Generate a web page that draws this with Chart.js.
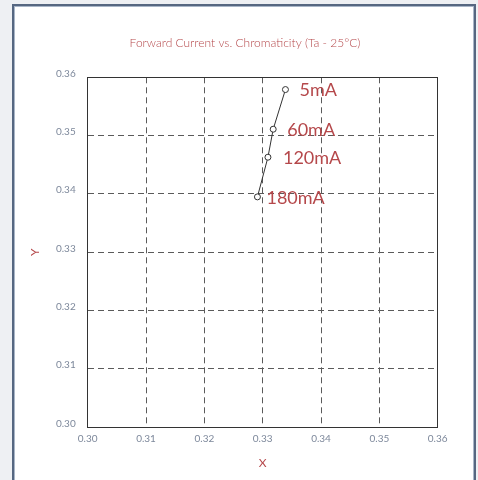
<!DOCTYPE html>
<html>
<head>
<meta charset="utf-8">
<script src="https://cdn.jsdelivr.net/npm/chart.js@4.4.1/dist/chart.umd.min.js"></script>
<style>
  html,body{margin:0;padding:0;width:478px;height:480px;overflow:hidden;background:#eef0f3;}
  .card{position:absolute;left:12px;top:4px;width:460px;height:500px;background:#fff;border:2px solid #566781;box-shadow:inset 0 0 0 1px #a9b6c8;}
  .wrap{position:absolute;left:0;top:0;width:478px;height:480px;}
</style>
</head>
<body>
<div class="card"></div>
<div class="wrap"><canvas id="chromaChart" width="478" height="480"></canvas></div>
<script>
const currents = ['5mA','60mA','120mA','180mA'];
const chromaX = [0.3339, 0.3318, 0.3309, 0.3291];
const chromaY = [0.3579, 0.3511, 0.3463, 0.3395];
const axisMin = 0.30, axisMax = 0.36, axisStep = 0.01;

document.addEventListener('DOMContentLoaded', () => {

  const red = '#b5484b';
  const tickGrey = '#7d889b';

  // labels next to each point
  const currentLabels = {
    id:'currentLabels',
    afterDatasetsDraw(chart, args, opts){
      const {ctx} = chart;
      const pts = chart.getDatasetMeta(0).data;
      ctx.save();
      ctx.font = '18px Lato, sans-serif';
      ctx.fillStyle = red;
      ctx.textBaseline = 'middle';
      pts.forEach((p,i)=>{
        ctx.fillText(currents[i], p.x + opts.dx[i], p.y + 1);
      });
      ctx.restore();
    }
  };

  const ctx = document.getElementById('chromaChart').getContext('2d');
  new Chart(ctx,{
    type:'scatter',
    data:{
      datasets:[{
        data: chromaX.map((x,i)=>({x:x, y:chromaY[i]})),
        showLine:true,
        borderColor:'#333', borderWidth:1,
        pointRadius:3, pointBackgroundColor:'#fff', pointBorderColor:'#333', pointBorderWidth:1
      }]
    },
    options:{
      responsive:false, animation:false,
      layout:{padding:{left:12, right:0, top:0, bottom:0}},
      plugins:{
        legend:{display:false},
        tooltip:{enabled:false},
        title:{display:true, text:'Forward Current vs. Chromaticity (Ta - 25°C)', color:red,
          font:{family:'Lato, sans-serif', size:12, weight:300}, padding:{top:35.5, bottom:27.4}},
        currentLabels:{dx:[14,14,15,9]}
      },
      scales:{
        x:{
          type:'linear', position:'bottom', min:axisMin, max:axisMax,
          afterFit:s=>{ s.height = 52.7; },
          ticks:{stepSize:axisStep, color:tickGrey, padding:5, font:{family:'Lato, sans-serif', size:10}, callback:v=>v.toFixed(2)},
          grid:{color:'#5a5a5a', drawTicks:false},
          border:{display:true, color:'#333', width:1, dash:[6,4]},
          title:{display:true, text:'X', color:red, font:{family:'Lato, sans-serif', size:12}, padding:{top:0, bottom:10}}
        },
        y:{
          type:'linear', position:'left', min:axisMin, max:axisMax,
          afterFit:s=>{ s.width = 75.7; },
          ticks:{stepSize:axisStep, color:tickGrey, padding:12, labelOffset:-4, font:{family:'Lato, sans-serif', size:10}, callback:v=>v.toFixed(2)},
          grid:{color:'#5a5a5a', drawTicks:false},
          border:{display:true, color:'#333', width:1, dash:[6,4]},
          title:{display:true, text:'Y', color:red, font:{family:'Lato, sans-serif', size:12}, padding:{top:16, bottom:0}}
        },
        xTop:{
          type:'linear', position:'top', min:axisMin, max:axisMax,
          afterFit:s=>{ s.height = 0; },
          ticks:{display:false}, grid:{display:false},
          border:{display:true, color:'#333', width:1}
        },
        yRight:{
          type:'linear', position:'right', min:axisMin, max:axisMax,
          afterFit:s=>{ s.width = 40.3; },
          ticks:{display:false}, grid:{display:false},
          border:{display:true, color:'#333', width:1}
        }
      }
    },
    plugins:[currentLabels]
  });

});
</script>
</body>
</html>
